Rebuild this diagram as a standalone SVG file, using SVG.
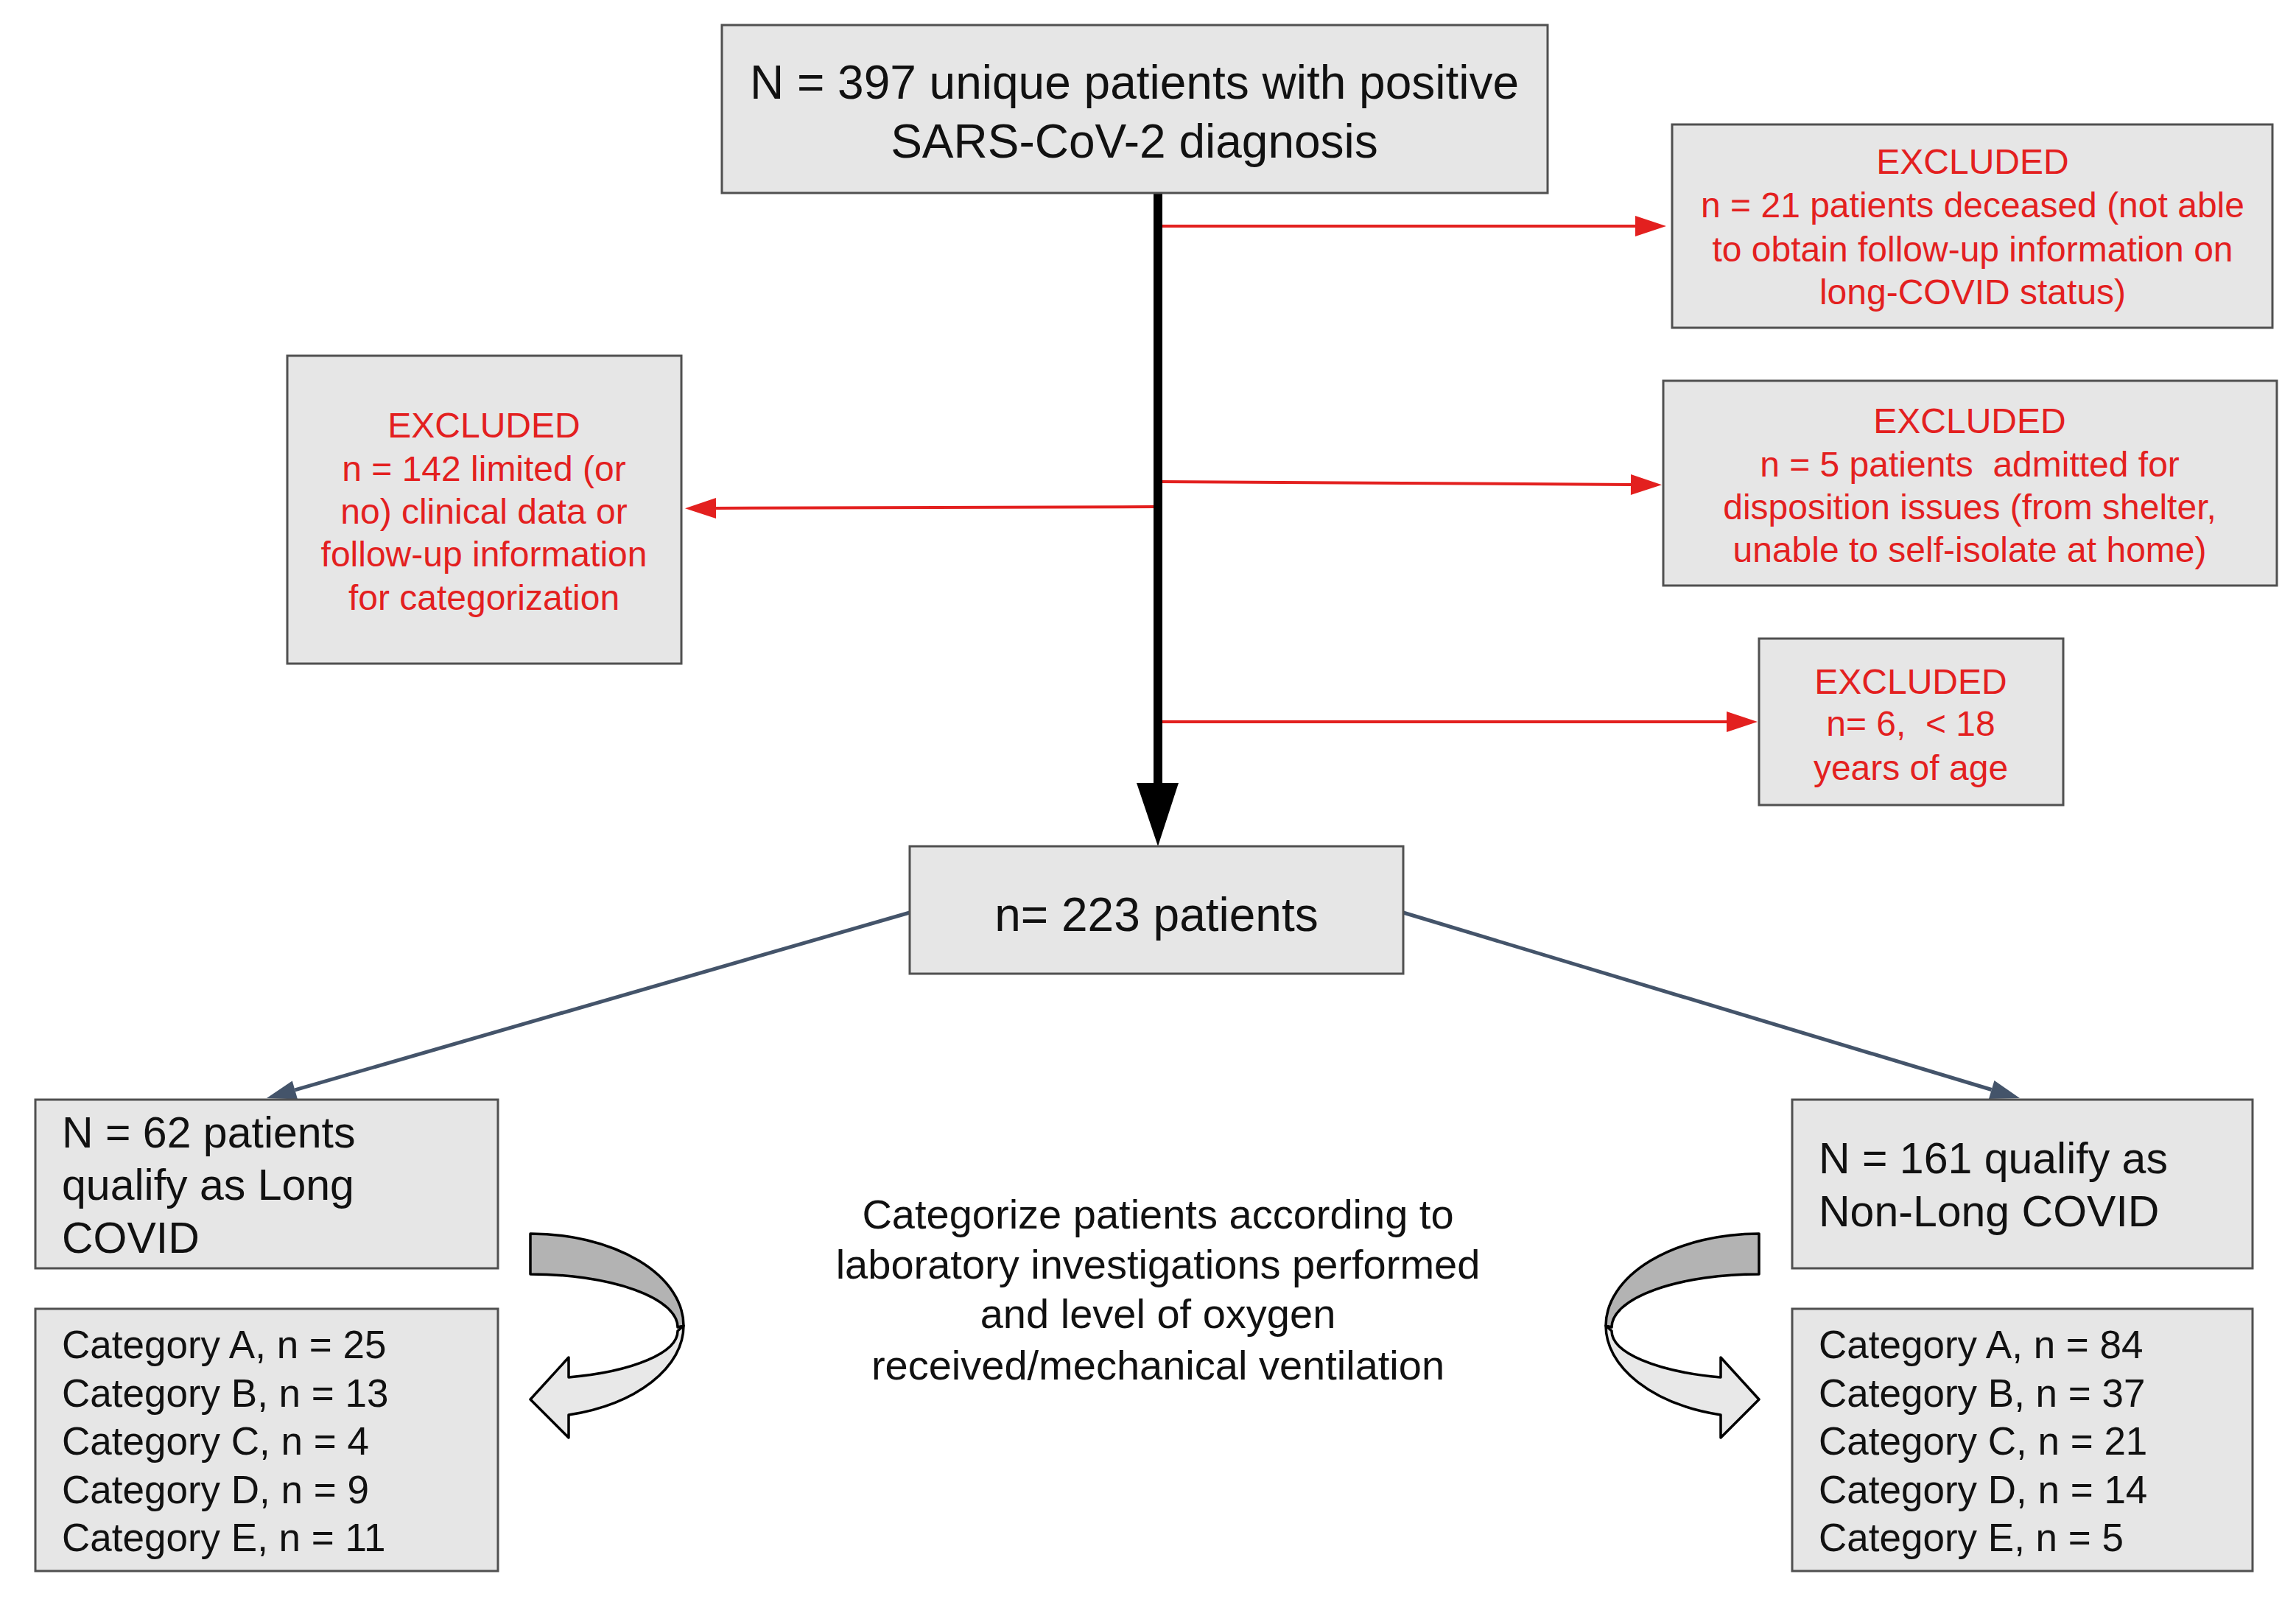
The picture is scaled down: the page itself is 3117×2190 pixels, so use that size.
<svg xmlns="http://www.w3.org/2000/svg" width="3117" height="2190" viewBox="0 0 3117 2190">
<defs>
<style>
.box{fill:#e6e6e6;stroke:#505050;stroke-width:3}
.t{font-family:"Liberation Sans",Arial,sans-serif;fill:#111}
.big{font-size:64px;text-anchor:middle}
.mid{font-size:59px}
.cat{font-size:53px}
.ctr{font-size:56px;text-anchor:middle}
.red{font-family:"Liberation Sans",Arial,sans-serif;font-size:48px;fill:#e3201f;text-anchor:middle}
.rl{stroke:#e3201f;stroke-width:4;fill:none}
.gl{stroke:#44546a;stroke-width:5;fill:none}
.cv{stroke:#000;stroke-width:3.5;stroke-linejoin:round}
</style>
<marker id="rh" markerUnits="userSpaceOnUse" markerWidth="50" markerHeight="40" refX="0" refY="0" viewBox="0 -20 50 40" orient="auto" overflow="visible">
<path d="M0,-14 L42,0 L0,14 z" fill="#e3201f"/>
</marker>
<marker id="gh" markerUnits="userSpaceOnUse" markerWidth="50" markerHeight="40" refX="0" refY="0" viewBox="0 -20 50 40" orient="auto" overflow="visible">
<path d="M0,-13 L40,0 L0,13 z" fill="#44546a"/>
</marker>
<g id="curv">
<path class="cv" fill="#e8e8e8" d="M928,1800 A208,125 0 0 1 772,1921 L772,1952 L720,1900 L772,1843 L772,1870 A200,65 0 0 0 920,1807 Z"/>
<path class="cv" fill="#b3b3b3" d="M720,1675 A208,125 0 0 1 928,1800 L920,1802 A200,72 0 0 0 720,1730 Z"/>
</g>
</defs>
<rect width="3117" height="2190" fill="#fff"/>

<g id="connectors">
<line x1="1572" y1="262" x2="1572" y2="1066" stroke="#000" stroke-width="12"/>
<polygon points="1543,1063 1600,1063 1572,1149" fill="#000"/>
<line class="rl" x1="1578" y1="307" x2="2220" y2="307" marker-end="url(#rh)"/>
<line class="rl" x1="1566" y1="688" x2="972" y2="690" marker-end="url(#rh)"/>
<line class="rl" x1="1578" y1="654" x2="2214" y2="658" marker-end="url(#rh)"/>
<line class="rl" x1="1578" y1="980" x2="2344" y2="980" marker-end="url(#rh)"/>
<line class="gl" x1="1235" y1="1239" x2="400.4" y2="1479.9" marker-end="url(#gh)"/>
<line class="gl" x1="1905" y1="1239" x2="2703.7" y2="1479.5" marker-end="url(#gh)"/>
<use href="#curv"/>
<use href="#curv" transform="translate(3108,0) scale(-1,1)"/>
</g>

<g id="top">
<rect class="box" x="980" y="34" width="1121" height="228"/>
<text class="t big" x="1540" y="134">N = 397 unique patients with positive</text>
<text class="t big" x="1540" y="214">SARS-CoV-2 diagnosis</text>
</g>

<g id="excl1">
<rect class="box" x="2270" y="169" width="815" height="276"/>
<text class="red" x="2678" y="236">EXCLUDED</text>
<text class="red" x="2678" y="295">n = 21 patients deceased (not able</text>
<text class="red" x="2678" y="355">to obtain follow-up information on</text>
<text class="red" x="2678" y="413">long-COVID status)</text>
</g>

<g id="excl-left">
<rect class="box" x="390" y="483" width="535" height="418"/>
<text class="red" x="657" y="594">EXCLUDED</text>
<text class="red" x="657" y="653">n = 142 limited (or</text>
<text class="red" x="657" y="711">no) clinical data or</text>
<text class="red" x="657" y="769">follow-up information</text>
<text class="red" x="657" y="828">for categorization</text>
</g>

<g id="excl2">
<rect class="box" x="2258" y="517" width="833" height="278"/>
<text class="red" x="2674" y="588">EXCLUDED</text>
<text class="red" x="2674" y="647" xml:space="preserve">n = 5 patients  admitted for</text>
<text class="red" x="2674" y="705">disposition issues (from shelter,</text>
<text class="red" x="2674" y="763">unable to self-isolate at home)</text>
</g>

<g id="excl3">
<rect class="box" x="2388" y="867" width="413" height="226"/>
<text class="red" x="2594" y="942">EXCLUDED</text>
<text class="red" x="2594" y="999" xml:space="preserve">n= 6,  &lt; 18</text>
<text class="red" x="2594" y="1059">years of age</text>
</g>

<g id="n223">
<rect class="box" x="1235" y="1149" width="670" height="173"/>
<text class="t big" x="1570" y="1264">n= 223 patients</text>
</g>

<g id="longcovid">
<rect class="box" x="48" y="1493" width="628" height="229"/>
<text class="t mid" x="84" y="1558">N = 62 patients</text>
<text class="t mid" x="84" y="1629">qualify as Long</text>
<text class="t mid" x="84" y="1701">COVID</text>
</g>

<g id="longcats">
<rect class="box" x="48" y="1777" width="628" height="356"/>
<text class="t cat" x="84" y="1844">Category A, n = 25</text>
<text class="t cat" x="84" y="1910">Category B, n = 13</text>
<text class="t cat" x="84" y="1975">Category C, n = 4</text>
<text class="t cat" x="84" y="2041">Category D, n = 9</text>
<text class="t cat" x="84" y="2106">Category E, n = 11</text>
</g>

<g id="nonlong">
<rect class="box" x="2433" y="1493" width="625" height="229"/>
<text class="t mid" x="2469" y="1593">N = 161 qualify as</text>
<text class="t mid" x="2469" y="1665">Non-Long COVID</text>
</g>

<g id="nonlongcats">
<rect class="box" x="2433" y="1777" width="625" height="356"/>
<text class="t cat" x="2469" y="1844">Category A, n = 84</text>
<text class="t cat" x="2469" y="1910">Category B, n = 37</text>
<text class="t cat" x="2469" y="1975">Category C, n = 21</text>
<text class="t cat" x="2469" y="2041">Category D, n = 14</text>
<text class="t cat" x="2469" y="2106">Category E, n = 5</text>
</g>

<g id="note">
<text class="t ctr" x="1572" y="1668">Categorize patients according to</text>
<text class="t ctr" x="1572" y="1736">laboratory investigations performed</text>
<text class="t ctr" x="1572" y="1803">and level of oxygen</text>
<text class="t ctr" x="1572" y="1873">received/mechanical ventilation</text>
</g>
</svg>
